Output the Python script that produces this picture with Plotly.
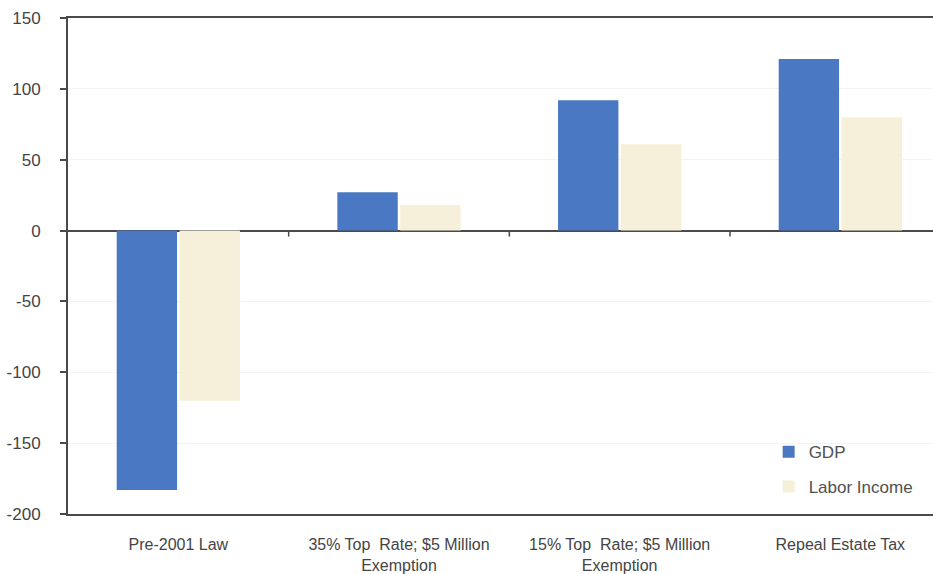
import plotly.graph_objects as go

# Scenario categories and the two economic effects for each
categories = [
    "Pre-2001 Law",
    "35% Top  Rate; $5 Million<br>Exemption",
    "15% Top  Rate; $5 Million<br>Exemption",
    "Repeal Estate Tax",
]
gdp = [-183, 27, 92, 121]
labor_income = [-120, 18, 61, 80]

y_ticks = [150, 100, 50, 0, -50, -100, -150, -200]
y_tick_text = ["150", "100", "50", "0", "-50", "-100", "-150", "-200"]
boundary_ticks = [0.5, 1.5, 2.5]

GDP_COLOR = "#4a78c2"
LABOR_COLOR = "#f6f0da"
AXIS_COLOR = "#4a4a4a"
TEXT_COLOR = "#444444"
FONT = "Liberation Sans, Arial"

fig = go.Figure()
fig.add_trace(go.Bar(name="GDP", x=categories, y=gdp,
                     marker=dict(color=GDP_COLOR, line=dict(width=0)),
                     showlegend=True, legend="legend"))
fig.add_trace(go.Bar(name="Labor Income", x=categories, y=labor_income,
                     marker=dict(color=LABOR_COLOR, line=dict(width=0)),
                     showlegend=True, legend="legend2"))

# small downward ticks on the zero line between categories
for xv in boundary_ticks:
    fig.add_shape(type="line", xref="x", yref="y", x0=xv, x1=xv,
                  ysizemode="pixel", yanchor=0, y0=0, y1=-6,
                  line=dict(color=AXIS_COLOR, width=1.5))

legend_common = dict(
    bgcolor="rgba(0,0,0,0)",
    font=dict(family=FONT, size=17, color="#505050"),
    itemsizing="constant",
    visible=True,
)

fig.update_layout(
    width=933,
    height=574,
    margin=dict(l=68, r=0, t=18, b=60, autoexpand=False),
    paper_bgcolor="white",
    plot_bgcolor="white",
    showlegend=True,
    barmode="group",
    bargap=0.43,
    bargroupgap=0.04,
    font=dict(family=FONT, size=17, color=TEXT_COLOR),
    legend=dict(x=0.81, y=0.161, xanchor="left", yanchor="top", **legend_common),
    legend2=dict(x=0.81, y=0.091, xanchor="left", yanchor="top", **legend_common),
    xaxis=dict(
        range=[-0.5, 3.42],
        automargin=False,
        showline=True,
        linecolor=AXIS_COLOR,
        linewidth=1.5,
        mirror=True,
        ticks="",
        showgrid=False,
        zeroline=False,
        ticklabelstandoff=15,
        tickfont=dict(family=FONT, size=16, color=TEXT_COLOR),
    ),
    yaxis=dict(
        range=[-200, 150],
        automargin=False,
        tickvals=y_ticks,
        ticktext=y_tick_text,
        showline=True,
        linecolor=AXIS_COLOR,
        linewidth=2,
        ticks="outside",
        ticklen=6,
        tickcolor=AXIS_COLOR,
        tickwidth=1.5,
        ticklabelstandoff=16,
        showgrid=True,
        gridcolor="#f3f3f3",
        gridwidth=1,
        zeroline=True,
        zerolinecolor=AXIS_COLOR,
        zerolinewidth=1.5,
        tickfont=dict(family=FONT, size=17, color=TEXT_COLOR),
    ),
)

fig.write_html("out.html")
